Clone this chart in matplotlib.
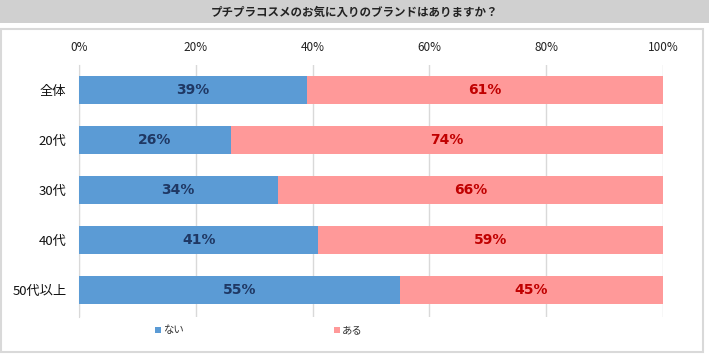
import numpy as np
import matplotlib
matplotlib.use("Agg")
import matplotlib.pyplot as plt
import matplotlib.patches as patches

plt.rcParams['font.family'] = ['Noto Sans CJK JP', 'DejaVu Sans']

title = 'プチプラコスメのお気に入りのブランドはありますか？'
groups = ['全体', '20代', '30代', '40代', '50代以上']
nai = [39, 26, 34, 41, 55]
aru = [61, 74, 66, 59, 45]
ticks = [0, 20, 40, 60, 80, 100]

blue = '#5B9BD5'
pink = '#FF9999'

fig = plt.figure(figsize=(7.09, 3.57), dpi=100)

# title bar and panel frame (behind the axes)
fig.patches.append(patches.Rectangle((0, 1 - 23 / 357), 1, 23 / 357,
                                     transform=fig.transFigure, facecolor='#D0D0D0',
                                     edgecolor='none', zorder=-2))
fig.patches.append(patches.Rectangle((0.5 / 709, 5 / 357), 702 / 709, 323 / 357,
                                     transform=fig.transFigure, facecolor='white',
                                     edgecolor='#D9D9D9', lw=1.5, zorder=-2))
fig.text(0.5, 1 - 12 / 357, title, ha='center', va='center', fontsize=8.3,
         fontweight='bold', color='#222222')

ax = fig.add_axes([79 / 709, 1 - 317 / 357, (663 - 79) / 709, 252 / 357])
ax.patch.set_alpha(0)
y = np.arange(len(groups))
ax.barh(y, nai, height=0.56, color=blue, zorder=3)
ax.barh(y, aru, left=nai, height=0.56, color=pink, zorder=3)

for i in range(len(groups)):
    ax.text(nai[i] / 2, y[i], f'{nai[i]}%', ha='center', va='center',
            family='DejaVu Sans', fontsize=10, fontweight='bold',
            color='#1F3864', zorder=4)
    ax.text(nai[i] + aru[i] / 2, y[i], f'{aru[i]}%', ha='center', va='center',
            family='DejaVu Sans', fontsize=10, fontweight='bold',
            color='#C00000', zorder=4)

ax.set_xlim(0, 100)
ax.set_ylim(4.54, -0.49)
ax.set_xticks(ticks)
ax.set_xticklabels([f'{t}%' for t in ticks], fontsize=8.5, color='#222222')
ax.xaxis.tick_top()
ax.tick_params(axis='x', length=0, pad=8)
ax.set_yticks(y)
ax.set_yticklabels(groups, fontsize=9.5, color='#111111')
ax.tick_params(axis='y', length=0, pad=9)
ax.grid(axis='x', color='#D9D9D9', lw=1, zorder=0)
for s in ['top', 'right', 'bottom']:
    ax.spines[s].set_visible(False)
ax.spines['left'].set_color('#D9D9D9')

# legend
ly = 1 - 330 / 357
fig.patches.append(patches.Rectangle((155 / 709, ly - 3 / 357), 6 / 709, 6 / 357,
                                     transform=fig.transFigure, facecolor=blue))
fig.text(163 / 709, ly, 'ない', va='center', fontsize=7.5, color='#333333')
fig.patches.append(patches.Rectangle((334 / 709, ly - 3 / 357), 6 / 709, 6 / 357,
                                     transform=fig.transFigure, facecolor=pink))
fig.text(342 / 709, ly, 'ある', va='center', fontsize=7.5, color='#333333')

fig.savefig('out.png', dpi=100)
